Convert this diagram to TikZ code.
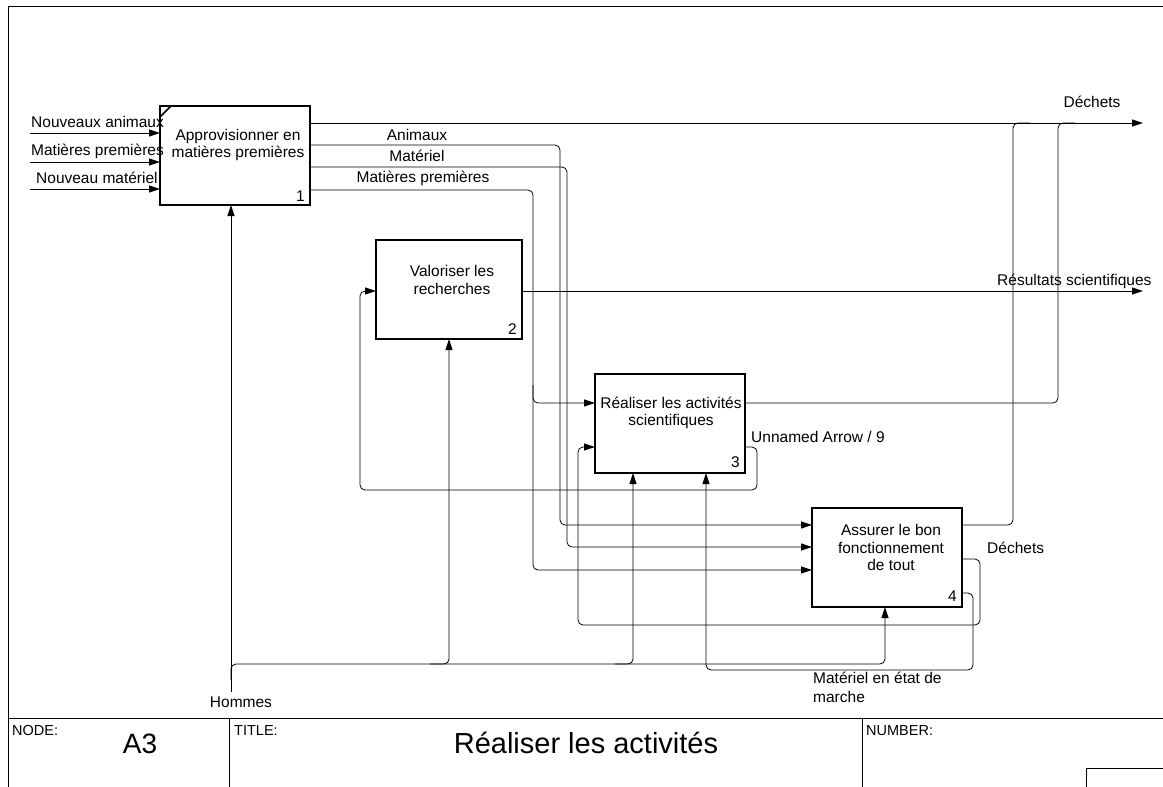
\documentclass[tikz,border=0pt]{standalone}
\usepackage{fontspec}
\setmainfont{Liberation Sans}
\usetikzlibrary{arrows.meta,calc}
\begin{document}
\begin{tikzpicture}[x=1pt,y=-1pt,
  box/.style={draw,line width=1.8pt,minimum width=150pt,minimum height=99pt,inner sep=0pt,outer sep=0pt},
  flow/.style={line width=0.8pt,rounded corners=5pt},
  arr/.style={flow,-{Triangle[length=11pt,width=7pt]}},
  lbl/.style={font=\fontsize{15.5}{17.5}\selectfont,inner sep=0pt,align=center},
  small/.style={font=\fontsize{14.5}{16}\selectfont,inner sep=0pt},
  frame/.style={line width=1pt}]
\useasboundingbox (0,0) rectangle (1163,787);
% frame
\draw[frame] (8,787) -- (8,6) -- (1163,6);
\draw[frame] (8,718) -- (1163,718);
\draw[frame] (229,718) -- (229,787);
\draw[frame] (862,718) -- (862,787);
\draw[frame] (1086,787) -- (1086,768) -- (1163,768);
% boxes
\node[box] (b1) at (235,155.5) {};
\node[box,minimum width=146pt] (b2) at (449,289.5) {};
\node[box] (b3) at (670,423.5) {};
\node[box] (b4) at (887,557.5) {};
\draw[line width=1.6pt] (160,117) -- (171,106);
% box texts
\node[lbl] (t1) at (238,145) {Approvisionner en\\matières premières};
\node[lbl] (t2) at (452,280) {Valoriser les\\recherches};
\node[lbl] (t3) at (671,413) {Réaliser les activités\\scientifiques};
\node[lbl] (t4) at (891,547.5) {Assurer le bon\\fonctionnement\\de tout};
\node[lbl,anchor=base east] (n1) at (305,201) {1};
\node[lbl,anchor=base east] (n2) at (517,334) {2};
\node[lbl,anchor=base east] (n3) at (740,467) {3};
\node[lbl,anchor=base east] (n4) at (957,601) {4};
% coordinates
\coordinate (ia) at (30,133);
\coordinate (ib) at (30,162);
\coordinate (ic) at (30,189);
\coordinate (b1o1) at (310,123);
\coordinate (b1o2) at (310,145);
\coordinate (b1o3) at (310,167);
\coordinate (b1o4) at (310,190);
\coordinate (dech) at (1143,123);
\coordinate (res) at (1143,291);
\coordinate (b2i) at (376,291);
\coordinate (b2o) at (522,291);
\coordinate (b3i1) at (595,403);
\coordinate (b3i2) at (595,447);
\coordinate (b3o1) at (745,403);
\coordinate (b3o2) at (745,447);
\coordinate (b3m1) at (633,473);
\coordinate (b3m2) at (706,473);
\coordinate (b4i1) at (812,525);
\coordinate (b4i2) at (812,547);
\coordinate (b4i3) at (812,570);
\coordinate (b4o1) at (962,525);
\coordinate (b4o2) at (962,559);
\coordinate (b4o3) at (962,593);
\coordinate (b4m) at (885,607);
\coordinate (b1m) at (231,205);
\coordinate (hom) at (231,692);
% inputs
\draw[arr] (ia) -- (ia -| b1.west);
\draw[arr] (ib) -- (ib -| b1.west);
\draw[arr] (ic) -- (ic -| b1.west);
% outputs of 1
\draw[arr] (b1o1) -- (dech);
\draw[arr] (b1o2) -- (560,145) -- (560,525) -- (b4i1);
\draw[arr] (b1o3) -- (567,167) -- (567,547) -- (b4i2);
\draw[arr] (b1o4) -- (533,190) -- (533,570) -- (b4i3);
\draw[arr] (533,385) |- (b3i1);
% output of 2
\draw[arr] (b2o) -- (res);
% outputs of 3
\draw[flow] (b3o1) -- (1058,403) -- (1058,123) -- (1075,123);
\draw[arr] (b3o2) -- (757,447) -- (757,490) -- (360,490) -- (360,291) -- (b2i);
% outputs of 4
\draw[flow] (b4o1) -- (1013,525) -- (1013,123) -- (1030,123);
\draw[arr] (b4o2) -- (980,559) -- (980,625) -- (578,625) -- (578,447) -- (b3i2);
\draw[arr] (b4o3) -- (973,593) -- (973,670) -- (706,670) -- (b3m2);
% mechanisms
\draw[arr] (hom) -- (b1m);
\draw[arr] (231,680) -- (231,664) -- (885,664) -- (b4m);
\draw[arr] (430,664) -| (b2.south);
\draw[arr] (615,664) -| (b3m1);
% arrow labels
\node[lbl,anchor=base west] (l1) at (31,127) {Nouveaux animaux};
\node[lbl,anchor=base west] (l2) at (31,155) {Matières premières};
\node[lbl,anchor=base west] (l3) at (36,183) {Nouveau matériel};
\node[lbl,anchor=base] (l4) at (417,140) {Animaux};
\node[lbl,anchor=base] (l5) at (417,161) {Matériel};
\node[lbl,anchor=base] (l6) at (423,182) {Matières premières};
\node[lbl,anchor=base] (l7) at (1092,107) {Déchets};
\node[lbl,anchor=base west] (l8) at (997,285) {Résultats scientifiques};
\node[lbl,anchor=base west] (l9) at (751,442) {Unnamed Arrow / 9};
\node[lbl,anchor=base west] (l10) at (987,553) {Déchets};
\node[lbl,anchor=base west,align=left,font=\fontsize{15.5}{19}\selectfont] (l11) at (813,702) {Matériel en état de\\marche};
\node[lbl,anchor=base] (l12) at (241,707) {Hommes};
% footer
\node[small,anchor=base west] (f1) at (12,735) {NODE:};
\node[font=\fontsize{28}{30}\selectfont,inner sep=0pt,anchor=base] (f2) at (140,753) {A3};
\node[small,anchor=base west] (f3) at (234,735) {TITLE:};
\node[font=\fontsize{29}{32}\selectfont,inner sep=0pt,anchor=base] (f4) at (586,753) {Réaliser les activités};
\node[small,anchor=base west] (f5) at (866,735) {NUMBER:};
\end{tikzpicture}
\end{document}
